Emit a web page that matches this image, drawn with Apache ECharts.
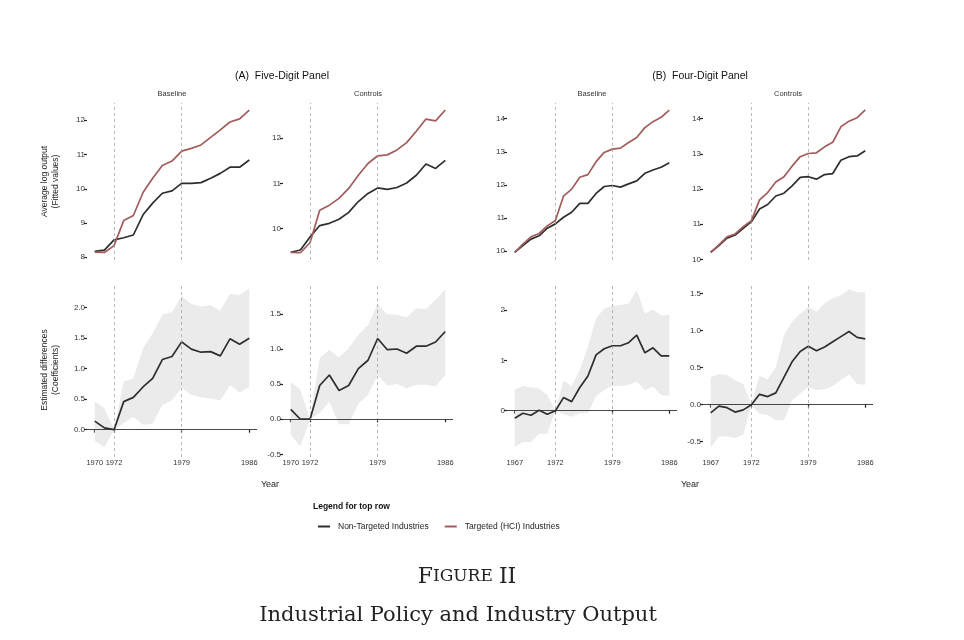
<!DOCTYPE html>
<html>
<head>
    <meta charset="utf-8"/>
    <title>Figure II - Industrial Policy and Industry Output</title>
    <script src="https://cdn.jsdelivr.net/npm/echarts@6/dist/echarts.min.js"></script>
    <style>
        html, body { margin: 0; padding: 0; background: #fff; }
        #main { width: 964px; height: 640px; }
    </style>
</head>
<body>
<div id="main"></div>
<script type="text/javascript">
    // 年份
    var years5 = [1970, 1971, 1972, 1973, 1974, 1975, 1976, 1977, 1978, 1979, 1980, 1981, 1982, 1983, 1984, 1985, 1986];
    var years4 = [1967, 1968, 1969, 1970, 1971, 1972, 1973, 1974, 1975, 1976, 1977, 1978, 1979, 1980, 1981, 1982, 1983, 1984, 1985, 1986];

    // top row: average log output (fitted values)
    var fiveBaseNon = [8.17, 8.21, 8.51, 8.57, 8.65, 9.24, 9.58, 9.87, 9.94, 10.16, 10.16, 10.18, 10.31, 10.45, 10.63, 10.63, 10.84];
    var fiveBaseHci = [8.15, 8.14, 8.34, 9.07, 9.22, 9.89, 10.31, 10.68, 10.81, 11.10, 11.18, 11.28, 11.50, 11.72, 11.95, 12.04, 12.30];
    var fiveCtrlNon = [9.48, 9.53, 9.82, 10.07, 10.12, 10.21, 10.36, 10.60, 10.78, 10.90, 10.87, 10.91, 11.01, 11.18, 11.43, 11.33, 11.51];
    var fiveCtrlHci = [9.48, 9.47, 9.69, 10.41, 10.52, 10.67, 10.89, 11.18, 11.44, 11.61, 11.63, 11.74, 11.90, 12.15, 12.42, 12.38, 12.62];
    var fourBaseNon = [9.96, 10.16, 10.36, 10.46, 10.69, 10.82, 11.02, 11.17, 11.44, 11.44, 11.74, 11.95, 11.98, 11.93, 12.03, 12.12, 12.35, 12.45, 12.53, 12.67];
    var fourBaseHci = [9.96, 10.21, 10.43, 10.53, 10.76, 10.92, 11.66, 11.87, 12.23, 12.31, 12.70, 12.98, 13.08, 13.11, 13.28, 13.43, 13.73, 13.91, 14.04, 14.26];
    var fourCtrlNon = [10.20, 10.39, 10.60, 10.69, 10.88, 11.07, 11.43, 11.56, 11.80, 11.88, 12.09, 12.33, 12.35, 12.28, 12.41, 12.44, 12.82, 12.92, 12.94, 13.09];
    var fourCtrlHci = [10.20, 10.41, 10.64, 10.72, 10.93, 11.10, 11.69, 11.90, 12.20, 12.35, 12.65, 12.92, 13.01, 13.03, 13.20, 13.33, 13.77, 13.93, 14.03, 14.25];

    // bottom row: estimated differences (coefficients) with confidence band
    var fiveBaseCoef = [0.14, 0.03, 0, 0.46, 0.53, 0.70, 0.84, 1.15, 1.20, 1.44, 1.32, 1.27, 1.28, 1.21, 1.49, 1.40, 1.50];
    var fiveBaseHi = [0.46, 0.35, 0, 0.79, 0.84, 1.33, 1.58, 1.89, 1.93, 2.19, 2.06, 2.02, 2.04, 1.95, 2.23, 2.21, 2.31];
    var fiveBaseLo = [-0.18, -0.29, 0, 0.11, 0.21, 0.08, 0.10, 0.40, 0.48, 0.69, 0.57, 0.53, 0.51, 0.48, 0.73, 0.61, 0.70];
    var fiveCtrlCoef = [0.14, 0, 0, 0.48, 0.63, 0.41, 0.48, 0.72, 0.84, 1.15, 0.99, 1.00, 0.94, 1.04, 1.04, 1.10, 1.25];
    var fiveCtrlHi = [0.53, 0.42, 0, 0.87, 0.99, 0.88, 1.01, 1.20, 1.34, 1.64, 1.49, 1.49, 1.45, 1.58, 1.57, 1.70, 1.85];
    var fiveCtrlLo = [-0.22, -0.39, 0, 0.09, 0.25, -0.07, -0.07, 0.22, 0.35, 0.63, 0.48, 0.50, 0.44, 0.49, 0.49, 0.47, 0.63];
    var fourBaseCoef = [-0.15, -0.05, -0.09, 0.01, -0.07, 0, 0.26, 0.18, 0.46, 0.69, 1.11, 1.23, 1.29, 1.29, 1.35, 1.50, 1.15, 1.25, 1.09, 1.09];
    var fourBaseHi = [0.42, 0.49, 0.46, 0.44, 0.31, 0, 0.60, 0.49, 0.81, 1.27, 1.83, 2.03, 2.08, 2.10, 2.13, 2.40, 1.93, 2.01, 1.89, 1.90];
    var fourBaseLo = [-0.72, -0.62, -0.62, -0.46, -0.46, 0, -0.07, -0.12, -0.05, -0.05, 0.29, 0.41, 0.49, 0.49, 0.51, 0.58, 0.41, 0.48, 0.31, 0.29];
    var fourCtrlCoef = [-0.11, -0.02, -0.04, -0.10, -0.07, 0, 0.14, 0.11, 0.16, 0.37, 0.58, 0.72, 0.79, 0.73, 0.78, 0.85, 0.92, 0.99, 0.91, 0.89];
    var fourCtrlHi = [0.37, 0.41, 0.40, 0.33, 0.28, 0, 0.39, 0.34, 0.51, 0.94, 1.12, 1.23, 1.32, 1.26, 1.37, 1.44, 1.48, 1.56, 1.52, 1.52];
    var fourCtrlLo = [-0.58, -0.43, -0.43, -0.45, -0.41, 0, -0.12, -0.14, -0.21, -0.21, 0.06, 0.15, 0.24, 0.20, 0.21, 0.25, 0.33, 0.41, 0.28, 0.27];

    // tick labels
    var topTicks = [[8, 9, 10, 11, 12], [10, 11, 12], [10, 11, 12, 13, 14], [10, 11, 12, 13, 14]];
    var botTicks = [[0, 0.5, 1, 1.5, 2], [-0.5, 0, 0.5, 1, 1.5], [0, 1, 2], [-0.5, 0, 0.5, 1, 1.5]];
    var yearTicks5 = [1970, 1972, 1979, 1986];
    var yearTicks4 = [1967, 1972, 1979, 1986];
    var policyYears = [1972, 1979];
    var nameNon = 'Non-Targeted Industries';
    var nameHci = 'Targeted (HCI) Industries';

    var FONT = 'Liberation Sans, Arial, sans-serif';
    var SERIF = 'DejaVu Serif, Liberation Serif, serif';
    var BLACK = '#2e2e2e';
    var RED = '#a35c5c';

    // 面板布局
    var lefts = [87, 283, 507, 703];
    var panelW = 170;
    var topRow = {top: 103, height: 157};
    var botRow = {top: 283, height: 174};
    var xRange5 = [1969.2, 1986.8];
    var xRange4 = [1966.05, 1986.95];
    var topY = [[7.92, 12.505], [9.31, 12.775], [9.728, 14.474], [9.98, 14.447]];
    var botY = [[-0.448, 2.405], [-0.538, 1.94], [-0.92, 2.537], [-0.707, 1.645]];

    var topData = [
        {years: years5, non: fiveBaseNon, hci: fiveBaseHci},
        {years: years5, non: fiveCtrlNon, hci: fiveCtrlHci},
        {years: years4, non: fourBaseNon, hci: fourBaseHci},
        {years: years4, non: fourCtrlNon, hci: fourCtrlHci}
    ];
    var botData = [
        {years: years5, coef: fiveBaseCoef, lo: fiveBaseLo, hi: fiveBaseHi, dec: 1},
        {years: years5, coef: fiveCtrlCoef, lo: fiveCtrlLo, hi: fiveCtrlHi, dec: 1},
        {years: years4, coef: fourBaseCoef, lo: fourBaseLo, hi: fourBaseHi, dec: 0},
        {years: years4, coef: fourCtrlCoef, lo: fourCtrlLo, hi: fourCtrlHi, dec: 1}
    ];

    function pairs(yrs, vals) {
        return yrs.map(function (y, k) { return [y, vals[k]]; });
    }

    function vlines(extra) {
        var d = policyYears.map(function (y) {
            return {xAxis: y, lineStyle: {type: [3, 3], color: '#9a9a9a', width: 0.7}};
        });
        return {
            silent: true, symbol: ['none', 'none'], label: {show: false},
            animation: false, data: d.concat(extra || [])
        };
    }

    var grids = [], xAxes = [], yAxes = [], series = [];

    function addAxes(i, left, row, xr, yr, yticks, dec, xticks, yName) {
        grids.push({left: left, top: row.top, width: panelW, height: row.height});
        xAxes.push({
            gridIndex: i, type: 'value', min: xr[0], max: xr[1],
            axisLine: {show: false}, splitLine: {show: false},
            axisTick: xticks ? {show: true, customValues: xticks, length: 3, lineStyle: {color: '#222', width: 1.2}} : {show: false},
            axisLabel: xticks ? {
                show: true, customValues: xticks, margin: 2, fontSize: 7.5, color: '#333', fontFamily: FONT,
                formatter: function (v) { return String(v); }
            } : {show: false}
        });
        yAxes.push({
            gridIndex: i, type: 'value', min: yr[0], max: yr[1],
            axisLine: {show: false}, splitLine: {show: false},
            axisTick: {show: true, customValues: yticks, length: 3, lineStyle: {color: '#222', width: 1.2}},
            axisLabel: {
                show: true, customValues: yticks, margin: 2, fontSize: 8, color: '#333', fontFamily: FONT,
                formatter: function (v) { return v.toFixed(dec); }
            },
            name: yName || '', nameLocation: 'middle', nameRotate: 90, nameGap: 26,
            nameTextStyle: {fontSize: 8.5, lineHeight: 11, color: '#222', fontFamily: FONT}
        });
    }

    // 上排
    topData.forEach(function (p, k) {
        var xr = p.years === years5 ? xRange5 : xRange4;
        addAxes(k, lefts[k], topRow, xr, topY[k], topTicks[k], 0, null,
            k === 0 ? 'Average log output\n(Fitted values)' : '');
        series.push({
            name: nameNon, type: 'line', xAxisIndex: k, yAxisIndex: k, symbol: 'none',
            data: pairs(p.years, p.non), lineStyle: {color: BLACK, width: 1.7}, itemStyle: {color: BLACK},
            z: 3, markLine: vlines()
        });
        series.push({
            name: nameHci, type: 'line', xAxisIndex: k, yAxisIndex: k, symbol: 'none',
            data: pairs(p.years, p.hci), lineStyle: {color: RED, width: 1.7}, itemStyle: {color: RED},
            z: 3
        });
    });

    // 下排
    botData.forEach(function (p, k) {
        var i = k + 4;
        var isFive = p.years === years5;
        addAxes(i, lefts[k], botRow, isFive ? xRange5 : xRange4, botY[k], botTicks[k], p.dec,
            isFive ? yearTicks5 : yearTicks4,
            k === 0 ? 'Estimated differences\n(Coefficients)' : '');
        series.push({
            type: 'custom', xAxisIndex: i, yAxisIndex: i, silent: true, z: 1,
            data: p.years.map(function (y, j) { return [y, p.lo[j], p.hi[j]]; }),
            encode: {x: 0, y: [1, 2]},
            renderItem: function (params, api) {
                if (params.dataIndex !== 0) return null;
                var pts = [];
                for (var j = 0; j < p.years.length; j++) pts.push(api.coord([p.years[j], p.hi[j]]));
                for (var j2 = p.years.length - 1; j2 >= 0; j2--) pts.push(api.coord([p.years[j2], p.lo[j2]]));
                return {type: 'polygon', shape: {points: pts}, style: {fill: '#ebebeb'}};
            }
        });
        series.push({
            name: 'coef', type: 'line', xAxisIndex: i, yAxisIndex: i, symbol: 'none',
            data: pairs(p.years, p.coef), lineStyle: {color: BLACK, width: 1.7}, itemStyle: {color: BLACK},
            z: 3,
            markLine: vlines([{yAxis: 0, lineStyle: {type: 'solid', color: '#333', width: 0.9}}])
        });
    });

    function txt(x, y, s, size, extra) {
        var st = {text: s, x: 0, y: 0, fontSize: size, fontFamily: FONT, fill: '#222', align: 'center', verticalAlign: 'middle'};
        for (var key in (extra || {})) st[key] = extra[key];
        return {type: 'text', x: x, y: y, silent: true, style: st};
    }

    var graphics = [
        txt(282, 76, '(A)  Five-Digit Panel', 10.5, {fill: '#111'}),
        txt(700, 76, '(B)  Four-Digit Panel', 10.5, {fill: '#111'}),
        txt(172, 94, 'Baseline', 7.5, {fill: '#333'}),
        txt(368, 94, 'Controls', 7.5, {fill: '#333'}),
        txt(592, 94, 'Baseline', 7.5, {fill: '#333'}),
        txt(788, 94, 'Controls', 7.5, {fill: '#333'}),
        txt(270, 485, 'Year', 9),
        txt(690, 485, 'Year', 9),
        txt(313, 507, 'Legend for top row', 8.5, {align: 'left', fontWeight: 'bold', fill: '#111'}),
        txt(467, 577, '{b|F}{s|IGURE} {b|II}', 22, {
            fill: '#222',
            rich: {
                b: {fontSize: 22, fontFamily: SERIF, fill: '#222'},
                s: {fontSize: 17, fontFamily: SERIF, fill: '#222'}
            }
        }),
        txt(458, 616, 'Industrial Policy and Industry Output', 21, {fontFamily: SERIF, fill: '#222'})
    ];

    var myChart = echarts.init(document.getElementById('main'));
    var option = {
        animation: false,
        backgroundColor: '#fff',
        grid: grids,
        xAxis: xAxes,
        yAxis: yAxes,
        legend: {
            data: [nameNon, nameHci],
            left: 313, top: 517,
            icon: 'rect', itemWidth: 12, itemHeight: 2, itemGap: 16,
            selectedMode: false,
            textStyle: {fontSize: 8.5, color: '#222', fontFamily: FONT, padding: [0, 0, 0, 3]}
        },
        graphic: graphics,
        series: series
    };
    myChart.setOption(option);
</script>
</body>
</html>
